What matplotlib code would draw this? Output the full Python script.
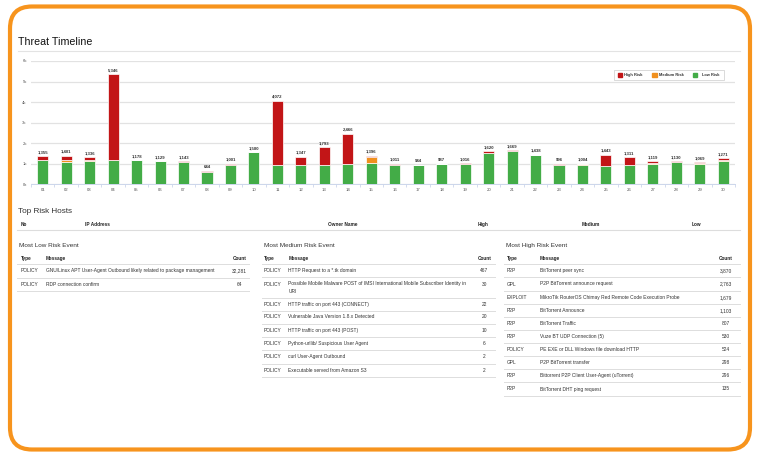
import matplotlib
matplotlib.use("Agg")
import matplotlib.pyplot as plt
from matplotlib.patches import FancyBboxPatch, Rectangle
from matplotlib.ticker import FixedLocator

plt.rcParams['font.family'] = ['Liberation Sans', 'DejaVu Sans']

# ---------------- data ----------------
days = [f"{d:02d}" for d in range(1, 31)]
low_risk = [1170, 1100, 1150, 1170, 1178, 1129, 1090, 585, 950, 1580,
            950, 950, 950, 970, 1050, 950, 944, 987, 1000, 1500,
            1600, 1438, 930, 940, 900, 930, 1000, 1090, 1000, 1130]
medium_risk = [15, 90, 40, 10, 0, 0, 0, 0, 10, 0,
               0, 10, 0, 0, 300, 0, 0, 0, 0, 20,
               0, 0, 0, 64, 10, 0, 20, 10, 20, 40]
high_risk = [170, 211, 146, 4166, 0, 0, 53, 59, 41, 0,
             3122, 387, 843, 1496, 46, 61, 0, 0, 16, 100,
             69, 0, 66, 0, 533, 381, 99, 30, 49, 101]
y_ticks = [0, 1000, 2000, 3000, 4000, 5000, 6000]
y_tick_labels = ["0k", "1k", "2k", "3k", "4k", "5k", "6k"]
series_names = ["High Risk", "Medium Risk", "Low Risk"]

host_headers = ["No", "IP Address", "Owner Name", "High", "Medium", "Low"]

low_types = ["POLICY", "POLICY"]
low_msgs = ["GNU/Linux APT User-Agent Outbound likely related to package management",
            "RDP connection confirm"]
low_counts = ["32,281", "64"]

med_types = ["POLICY"] * 8
med_msgs = ["HTTP Request to a *.tk domain",
            "Possible Mobile Malware POST of IMSI International Mobile Subscriber Identity in\nURI",
            "HTTP traffic on port 443 (CONNECT)",
            "Vulnerable Java Version 1.8.x Detected",
            "HTTP traffic on port 443 (POST)",
            "Python-urllib/ Suspicious User Agent",
            "curl User-Agent Outbound",
            "Executable served from Amazon S3"]
med_counts = ["467", "30", "22", "20", "10", "6", "2", "2"]

high_types = ["P2P", "GPL", "EXPLOIT", "P2P", "P2P", "P2P", "POLICY", "GPL", "P2P", "P2P"]
high_msgs = ["BitTorrent peer sync",
             "P2P BitTorrent announce request",
             "MikroTik RouterOS Chimay Red Remote Code Execution Probe",
             "BitTorrent Announce",
             "BitTorrent Traffic",
             "Vuze BT UDP Connection (5)",
             "PE EXE or DLL Windows file download HTTP",
             "P2P BitTorrent transfer",
             "Bittorrent P2P Client User-Agent (uTorrent)",
             "BitTorrent DHT ping request"]
high_counts = ["3,870", "2,763", "1,679", "1,103", "807", "530", "524", "298", "296", "135"]

# ---------------- style ----------------
W, H = 760, 455
C_LOW, C_MED, C_HIGH = "#43AC47", "#F0901E", "#C21517"
ORANGE = "#F7941D"
TXT = "#333333"
LINE = "#dddddd"
FS_ROW = 3.55
FS_HEAD = 3.45

fig = plt.figure(figsize=(W / 100, H / 100), dpi=100)
fig.patch.set_facecolor("white")

bg = fig.add_axes([0, 0, 1, 1])
bg.set_xlim(0, W)
bg.set_ylim(H, 0)
bg.axis("off")

# frame
bg.add_patch(FancyBboxPatch((10, 6.5), 740, 443, boxstyle="round,pad=0,rounding_size=22",
                            fill=False, ec=ORANGE, lw=3.0))

# title
bg.text(18, 45, "Threat Timeline", fontsize=7.7, color="#111111", va="baseline", ha="left")
bg.plot([18, 740], [50.5, 50.5], color="#e3e3e3", lw=0.8)

# ---------------- chart ----------------
ax = fig.add_axes([31 / W, 1 - 184.3 / H, 704 / W, (184.3 - 61) / H])
x = list(range(len(days)))
bottoms_med = low_risk
bottoms_high = [l + m for l, m in zip(low_risk, medium_risk)]
bw = 0.47
ax.bar(x, low_risk, width=bw, color=C_LOW, edgecolor="white", linewidth=0.5, zorder=3)
ax.bar(x, medium_risk, width=bw, bottom=bottoms_med, color=C_MED, edgecolor="white",
       linewidth=0.5, zorder=3)
ax.bar(x, high_risk, width=bw, bottom=bottoms_high, color=C_HIGH, edgecolor="white",
       linewidth=0.5, zorder=3)
totals = [l + m + h for l, m, h in zip(low_risk, medium_risk, high_risk)]
for xi, t in zip(x, totals):
    ax.text(xi, t + 90, f"{t:,}", ha="center", va="bottom", fontsize=3.1,
            fontweight="bold", color="#333333", zorder=4)

ax.set_xlim(-0.5, len(days) - 0.5)
ax.set_ylim(0, 6000)
ax.set_yticks(y_ticks)
ax.set_yticklabels(y_tick_labels)
ax.set_xticks(x)
ax.set_xticklabels(days)
ax.xaxis.set_minor_locator(FixedLocator([i + 0.5 for i in range(-1, len(days))]))
ax.tick_params(axis="x", which="major", length=0, labelsize=3.1, labelcolor="#555555", pad=3)
ax.tick_params(axis="x", which="minor", length=2.5, color="#ccd6eb", width=0.6)
ax.tick_params(axis="y", length=0, labelsize=3.1, labelcolor="#555555", pad=3)
for s in ["top", "right", "left"]:
    ax.spines[s].set_visible(False)
ax.spines["bottom"].set_color("#ccd6eb")
ax.spines["bottom"].set_linewidth(0.7)
ax.grid(axis="y", color="#e2e2e2", lw=0.9, zorder=0)
ax.set_axisbelow(True)
ax.set_facecolor("none")

# legend (drawn in pixel space)
bg.add_patch(Rectangle((614.3, 70), 109.7, 9.5, fill=False, ec="#cccccc", lw=0.5))
leg_items = [(617.7, 624.0, C_HIGH), (652.3, 659.3, C_MED), (692.7, 701.5, C_LOW)]
for (sx, tx, c), name in zip(leg_items, series_names):
    bg.add_patch(Rectangle((sx, 72.6), 4.6, 4.4, color=c))
    bg.text(tx, 75.0, name, fontsize=2.9, fontweight="bold", color="#333333",
            va="center", ha="left")

# ---------------- top risk hosts ----------------
bg.text(18.3, 213, "Top Risk Hosts", fontsize=5.9, color=TXT, va="baseline")
host_x = [21, 85, 328.3, 477.7, 582, 692]
for hx, hname in zip(host_x, host_headers):
    bg.text(hx, 225.6, hname, fontsize=FS_HEAD, fontweight="bold", color="#222222",
            va="baseline")
bg.plot([17.3, 740], [230.3, 230.3], color=LINE, lw=0.8)


# ---------------- event tables ----------------
def draw_table(title, x0, x1, tx, mx, cx, types, msgs, counts, row_y, line_y):
    bg.text(x0 + 2, 246.8, title, fontsize=4.6, color=TXT, va="baseline")
    bg.text(tx, 260.0, "Type", fontsize=FS_HEAD, fontweight="bold", color="#222222",
            va="baseline")
    bg.text(mx, 260.0, "Message", fontsize=FS_HEAD, fontweight="bold", color="#222222",
            va="baseline")
    bg.text(cx, 260.0, "Count", fontsize=FS_HEAD, fontweight="bold", color="#222222",
            va="baseline", ha="center")
    for ly in line_y:
        bg.plot([x0, x1], [ly, ly], color=LINE, lw=0.7)
    for ty, t, m, c in zip(row_y, types, msgs, counts):
        bg.text(tx, ty, t, fontsize=FS_ROW, color=TXT, va="baseline")
        bg.text(mx, ty, m, fontsize=FS_ROW, color=TXT, va="baseline")
        bg.text(cx, ty, c, fontsize=FS_ROW, color=TXT, va="baseline", ha="center")


draw_table("Most Low Risk Event", 16.7, 249.3, 21, 45.7, 239.3,
           low_types, low_msgs, low_counts,
           [272.2, 285.8],
           [264.0, 277.5, 291.2])

med_rows = [272.2, 285.5, 305.8, 318.5, 331.8, 344.8, 358.2, 371.5]
draw_table("Most Medium Risk Event", 261.7, 495, 264, 288.3, 484.3,
           med_types, [m.split("\n")[0] for m in med_msgs], med_counts,
           med_rows,
           [264.3, 277.3, 298.0, 311.0, 324.0, 337.0, 350.3, 363.7, 377.0])
# continuation line of the wrapped message
bg.text(288.3, 293.2, med_msgs[1].split("\n")[1], fontsize=FS_ROW, color=TXT, va="baseline")

high_rows = [272.2, 285.5, 298.8, 311.8, 324.8, 338.2, 351.2, 364.2, 377.2, 390.5]
draw_table("Most High Risk Event", 503.7, 740, 506.7, 540, 726,
           high_types, high_msgs, high_counts,
           high_rows,
           [264.3, 277.3, 290.7, 304.0, 317.0, 330.0, 343.3, 356.3, 369.3, 382.3, 395.5])

fig.savefig("out.png", dpi=100, facecolor="white")
